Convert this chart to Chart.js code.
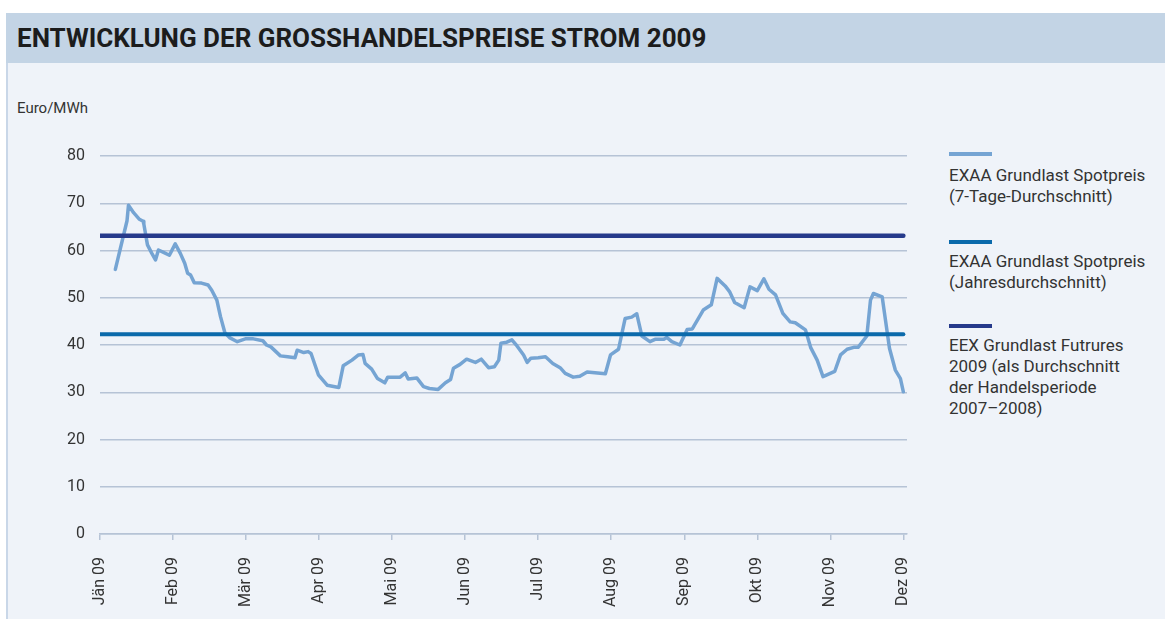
<!DOCTYPE html>
<html lang="de">
<head>
<meta charset="utf-8">
<script src="https://cdn.jsdelivr.net/npm/chart.js@4/dist/chart.umd.min.js"></script>
<style>
  html, body { margin: 0; padding: 0; background: #ffffff; }
  body { width: 1165px; height: 619px; position: relative; overflow: hidden; font-family: Roboto, "Liberation Sans", sans-serif; color: #333333; }
  #titlebar { position: absolute; left: 6px; top: 13px; width: 1159px; height: 50px; background: #c3d4e5; }
  #titlebar h1 { margin: 0; padding-left: 11px; font: bold 26px Roboto, sans-serif; line-height: 50px; color: #1c1c1c; }
  #panel { position: absolute; left: 6px; top: 63px; right: 0; bottom: 0; background: #eff3f9; border-left: 2px solid #c9d7e8; }
  #unit { position: absolute; left: 17px; top: 98px; font-size: 15px; line-height: 20px; }
  #chart { position: absolute; left: 0; top: 63px; }
  .lg-line { position: absolute; left: 949px; width: 43px; height: 4px; }
  .lg-text { position: absolute; left: 949px; font-size: 17px; line-height: 21px; color: #333333; white-space: nowrap; }
</style>
</head>
<body>
<div id="titlebar"><h1>ENTWICKLUNG DER GROSSHANDELSPREISE STROM 2009</h1></div>
<div id="panel"></div>
<div id="unit">Euro/MWh</div>
<canvas id="chart" width="920" height="556"></canvas>

<div class="lg-line" style="top:152px; background:#75a4d3;"></div>
<div class="lg-text" style="top:165px;">EXAA Grundlast Spotpreis<br>(7-Tage-Durchschnitt)</div>
<div class="lg-line" style="top:240px; background:#0b6aab;"></div>
<div class="lg-text" style="top:251px;">EXAA Grundlast Spotpreis<br>(Jahresdurchschnitt)</div>
<div class="lg-line" style="top:324px; background:#263a8b;"></div>
<div class="lg-text" style="top:335px;">EEX Grundlast Futrures<br>2009 (als Durchschnitt<br>der Handelsperiode<br>2007–2008)</div>

<script>
// MONTH LABELS (x axis, one tick per month)
const months = ["Jän 09", "Feb 09", "Mär 09", "Apr 09", "Mai 09", "Jun 09",
                "Jul 09", "Aug 09", "Sep 09", "Okt 09", "Nov 09", "Dez 09"];

// SPOT PRICE 7-DAY AVERAGE: position in months (0 = Jän) and Euro/MWh
const spotPos = [0.21, 0.37, 0.39, 0.46, 0.54, 0.59, 0.60, 0.65, 0.71, 0.76, 0.80,
                 0.87, 0.95, 1.03, 1.10, 1.16, 1.20, 1.24, 1.29, 1.39, 1.48,
                 1.53, 1.60, 1.65, 1.71, 1.78, 1.88, 1.99, 2.10, 2.23, 2.28,
                 2.34, 2.47, 2.57, 2.67, 2.70, 2.79, 2.85, 2.89, 2.99, 3.11,
                 3.27, 3.33, 3.45, 3.54, 3.60, 3.63, 3.72, 3.80, 3.90, 3.94,
                 4.11, 4.18, 4.22, 4.34, 4.43, 4.51, 4.63, 4.73, 4.80, 4.84,
                 4.93, 5.02, 5.14, 5.22, 5.32, 5.40, 5.46, 5.49, 5.57, 5.64,
                 5.71, 5.80, 5.85, 5.90, 6.00, 6.10, 6.20, 6.30, 6.37, 6.48,
                 6.57, 6.67, 6.92, 6.99, 7.10, 7.19, 7.28, 7.35, 7.42, 7.53,
                 7.60, 7.72, 7.76, 7.83, 7.94, 8.04, 8.11, 8.22, 8.26, 8.37,
                 8.45, 8.56, 8.62, 8.69, 8.82, 8.90, 9.00, 9.09, 9.16, 9.25,
                 9.35, 9.45, 9.52, 9.66, 9.73, 9.82, 9.90, 10.06, 10.14, 10.23,
                 10.32, 10.38, 10.50, 10.55, 10.59, 10.71, 10.81, 10.89, 10.96, 11.00];
const spotPrice = [56.0, 66.3, 69.6, 68.0, 66.6, 66.2, 65.6, 61.2, 59.4, 58.0, 60.1,
                   59.6, 59.0, 61.4, 59.4, 57.3, 55.2, 54.8, 53.2, 53.1, 52.7,
                   51.6, 49.5, 46.0, 42.6, 41.5, 40.7, 41.3, 41.3, 40.9, 40.0,
                   39.6, 37.7, 37.5, 37.3, 38.9, 38.4, 38.6, 38.2, 33.7, 31.5,
                   31.0, 35.6, 36.8, 37.9, 38.0, 36.1, 34.9, 32.9, 32.0, 33.2,
                   33.2, 34.1, 32.8, 33.0, 31.2, 30.8, 30.6, 32.0, 32.7, 35.1,
                   35.9, 37.0, 36.3, 37.0, 35.2, 35.4, 36.8, 40.4, 40.6, 41.1,
                   39.8, 37.9, 36.3, 37.2, 37.3, 37.5, 36.1, 35.2, 34.0, 33.2,
                   33.4, 34.3, 33.9, 37.9, 39.1, 45.6, 45.9, 46.6, 41.9, 40.7,
                   41.2, 41.2, 41.6, 40.7, 40.0, 43.3, 43.4, 46.3, 47.4, 48.5,
                   54.1, 52.5, 51.3, 49.0, 47.9, 52.3, 51.5, 54.0, 51.8, 50.6,
                   46.7, 44.9, 44.7, 43.2, 39.5, 36.8, 33.3, 34.4, 37.9, 39.1,
                   39.5, 39.5, 41.9, 49.5, 50.9, 50.2, 39.3, 34.7, 32.9, 30.1];

// ANNUAL AVERAGE AND FUTURES LEVEL (Euro/MWh), drawn over the whole year
const yearSpan = [0, 11];
const spotYearAvg = [42.3, 42.3];
const futuresAvg = [63.1, 63.1];

const yMin = 0, yMax = 80, yStep = 10;

const GRID = "#b6c3d6";
const TEXT = "#333333";

function toPoints(xs, ys) {
  return xs.map((x, i) => ({ x: x, y: ys[i] }));
}

const ctx = document.getElementById("chart").getContext("2d");
new Chart(ctx, {
  type: "line",
  data: {
    datasets: [
      {
        label: "EEX Grundlast Futrures 2009",
        data: toPoints(yearSpan, futuresAvg),
        borderColor: "#263a8b",
        borderWidth: 4.5,
        borderCapStyle: "round",
        pointRadius: 0,
      },
      {
        label: "EXAA Grundlast Spotpreis (Jahresdurchschnitt)",
        data: toPoints(yearSpan, spotYearAvg),
        borderColor: "#0b6aab",
        borderWidth: 4,
        borderCapStyle: "round",
        pointRadius: 0,
      },
      {
        label: "EXAA Grundlast Spotpreis (7-Tage-Durchschnitt)",
        data: toPoints(spotPos, spotPrice),
        borderColor: "#75a4d3",
        borderWidth: 3.5,
        borderJoinStyle: "round",
        borderCapStyle: "round",
        tension: 0,
        pointRadius: 0,
      },
    ],
  },
  options: {
    responsive: false,
    devicePixelRatio: 1,
    animation: false,
    layout: { padding: { top: 93, right: 13, left: 0, bottom: 0 } },
    plugins: {
      legend: { display: false },
      tooltip: { enabled: false },
    },
    scales: {
      x: {
        type: "linear",
        min: 0,
        max: 11.05,
        afterBuildTicks: (scale) => {
          scale.ticks = months.map((m, i) => ({ value: i }));
        },
        afterFit: (scale) => {
          scale.height = 85;
          scale.paddingLeft = 0;
          scale.paddingRight = 0;
        },
        grid: {
          drawOnChartArea: false,
          drawTicks: true,
          tickLength: 6,
          color: GRID,
          lineWidth: 1.5,
        },
        border: { display: true, color: GRID, width: 1.5 },
        ticks: {
          autoSkip: false,
          minRotation: 90,
          maxRotation: 90,
          padding: 17,
          color: TEXT,
          font: { family: "Roboto", size: 16 },
          callback: (v) => months[v],
        },
      },
      y: {
        min: yMin,
        max: yMax,
        afterFit: (scale) => {
          scale.width = 100;
        },
        grid: {
          color: GRID,
          lineWidth: 1.5,
          drawTicks: false,
        },
        border: { display: false },
        ticks: {
          stepSize: yStep,
          padding: 15,
          color: TEXT,
          font: { family: "Roboto", size: 16 },
        },
      },
    },
  },
});
</script>
</body>
</html>
